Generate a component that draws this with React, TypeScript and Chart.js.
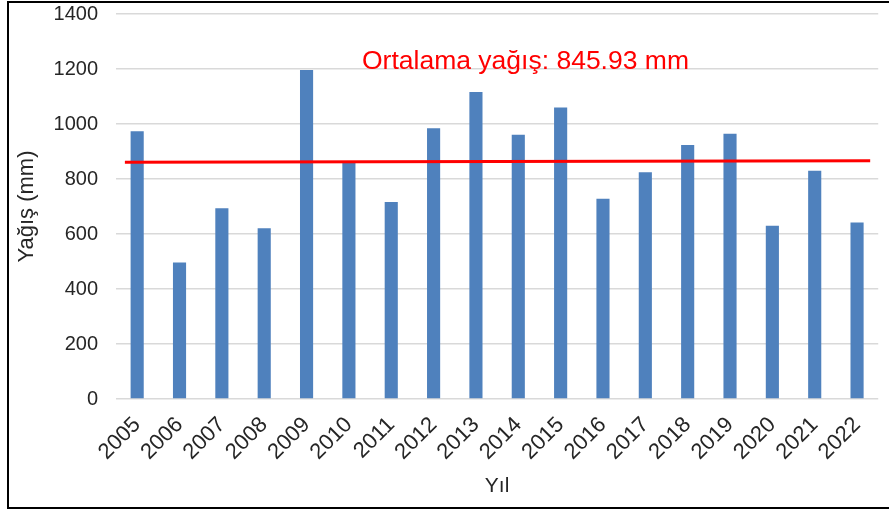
import React, { useEffect, useRef } from "react";
import { Chart, registerables } from "chart.js";

Chart.register(...registerables);

const years = ["2005","2006","2007","2008","2009","2010","2011","2012","2013","2014","2015","2016","2017","2018","2019","2020","2021","2022"];
const rainfall = [974, 496, 694, 621, 1196, 860, 716, 985, 1116, 961, 1060, 728, 825, 924, 965, 630, 830, 642];
const meanLineX = [-0.29, 17.31];
const meanLineY = [861, 866];
const meanLabel = "Ortalama yağış: 845.93 mm";
const meanLabelPos = { x: 9.17, y: 1200 };
const yTitle = "Yağış (mm)";
const xTitle = "Yıl";

const FONT = "'Liberation Sans', Arial, sans-serif";

const labelPlugin = {
  id: "meanLabel",
  afterDatasetsDraw(chart: any) {
    const ctx = chart.ctx;
    const xs = chart.scales.x2;
    const ys = chart.scales.y;
    ctx.save();
    ctx.font = `26.5px ${FONT}`;
    ctx.fillStyle = "#FF0000";
    ctx.textAlign = "center";
    ctx.textBaseline = "alphabetic";
    ctx.fillText(meanLabel, xs.getPixelForValue(meanLabelPos.x), ys.getPixelForValue(meanLabelPos.y));
    ctx.restore();
  },
};

export default function App() {
  const ref = useRef<HTMLCanvasElement>(null);
  useEffect(() => {
    const chart = new Chart(ref.current!, {
      type: "bar",
      data: {
        labels: years,
        datasets: [
          {
            type: "line",
            data: meanLineX.map((x, i) => ({ x, y: meanLineY[i] })),
            xAxisID: "x2",
            yAxisID: "y",
            borderColor: "#FF0000",
            borderWidth: 3,
            pointRadius: 0,
            fill: false,
            order: 0,
          } as any,
          {
            type: "bar",
            data: rainfall,
            xAxisID: "x",
            yAxisID: "y",
            backgroundColor: "#4F81BD",
            borderWidth: 0,
            grouped: false,
            categoryPercentage: 1,
            barPercentage: 0.31,
            order: 1,
          },
        ],
      },
      options: {
        animation: false,
        responsive: false,
        maintainAspectRatio: false,
        layout: { padding: { left: 0, right: 10, top: 14, bottom: 0 } },
        plugins: { legend: { display: false }, tooltip: { enabled: false }, title: { display: false } },
        scales: {
          x: {
            type: "category",
            grid: { display: false, drawTicks: false },
            border: { display: false },
            ticks: {
              color: "#262626",
              font: { family: FONT, size: 22 },
              minRotation: 45,
              maxRotation: 45,
              padding: 13,
              autoSkip: false,
            },
            title: {
              display: true,
              text: xTitle,
              color: "#262626",
              font: { family: FONT, size: 21 },
              padding: { top: 4, bottom: 12 },
            },
            afterFit: (s: any) => { s.height = 112; },
          },
          x2: {
            type: "linear",
            display: false,
            offset: false,
            min: -0.5,
            max: 17.5,
          },
          y: {
            min: 0,
            max: 1400,
            grid: { color: "#D9D9D9", lineWidth: 1.5, drawTicks: true, tickLength: 18, tickColor: "rgba(0,0,0,0)" },
            border: { display: false },
            ticks: {
              stepSize: 200,
              color: "#262626",
              font: { family: FONT, size: 20 },
              padding: 0,
              callback: (v: any) => String(v),
            },
            title: {
              display: true,
              text: yTitle,
              color: "#262626",
              font: { family: FONT, size: 22 },
              padding: { top: 14, bottom: 0 },
            },
            afterFit: (s: any) => { s.width = 116; },
          },
        },
      },
      plugins: [labelPlugin],
    });
    return () => chart.destroy();
  }, []);
  return (
    <div style={{ position: "fixed", left: 0, top: 0, width: 889, height: 511, background: "#fff", overflow: "hidden" }}>
      <canvas ref={ref} width={889} height={511} style={{ position: "absolute", left: 0, top: 0 }} />
      <div
        style={{
          position: "absolute",
          left: 7,
          top: 1,
          width: 900,
          height: 508,
          boxSizing: "border-box",
          borderTop: "2px solid #000",
          borderLeft: "2px solid #000",
          borderBottom: "2px solid #000",
          pointerEvents: "none",
        }}
      />
    </div>
  );
}
